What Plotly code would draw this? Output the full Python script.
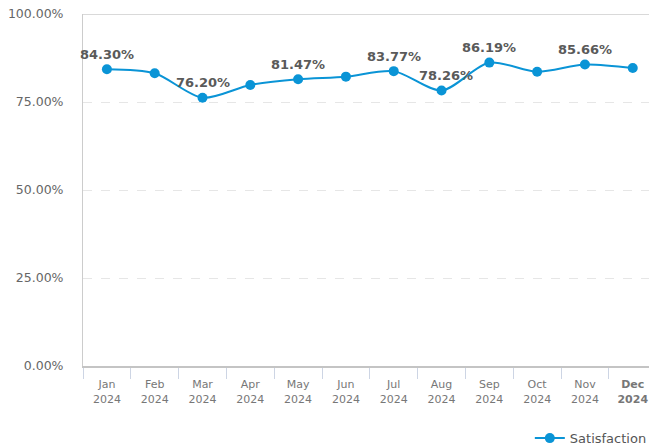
import plotly.graph_objects as go

months = ["Jan", "Feb", "Mar", "Apr", "May", "Jun", "Jul", "Aug", "Sep", "Oct", "Nov", "Dec"]
year = "2024"
satisfaction = [84.30, 83.15, 76.20, 79.83, 81.47, 82.20, 83.77, 78.26, 86.19, 83.60, 85.66, 84.66]
show_label = [True, False, True, False, True, False, True, True, True, False, True, False]
y_ticks = [0, 25, 50, 75, 100]

cats = [f"{m}<br>{year}" for m in months]
tick_text = [f"<b>{m}<br>{year}</b>" if m == "Dec" else f"{m}<br>{year}" for m in months]

LINE = "#0a94d6"
fig = go.Figure()
fig.add_trace(go.Scatter(
    x=cats, y=satisfaction, mode="lines+markers", name="Satisfaction",
    line=dict(color=LINE, width=2, shape="spline", smoothing=0.8),
    marker=dict(color=LINE, size=10),
    hoverinfo="skip",
))

for c, v, s, m in zip(cats, satisfaction, show_label, months):
    if s:
        fig.add_annotation(
            x=c, y=v, text=f"<b>{v:.2f}%</b>", showarrow=False,
            yshift=15, xshift=4 if m == "Aug" else 0,
            font=dict(family="DejaVu Sans", size=13, color="#5a5a5a"),
        )

fig.update_layout(
    width=649, height=446,
    margin=dict(l=83, r=0, t=14, b=80, autoexpand=False),
    paper_bgcolor="white", plot_bgcolor="white",
    font=dict(family="DejaVu Sans", color="#666666"),
    showlegend=True,
    legend=dict(orientation="h", x=1.005, xanchor="right", y=-0.205, yanchor="middle",
                font=dict(size=13, color="#555555"), bgcolor="rgba(0,0,0,0)"),
    xaxis=dict(
        type="category", range=[-0.5, 11.34], tickmode="array", tickvals=cats, ticktext=tick_text,
        tickson="boundaries", ticks="outside", ticklen=11, tickcolor="#cdd5e4", tickwidth=1,
        showgrid=False, showline=True, linecolor="#c4c4c4", linewidth=2,
        tickfont=dict(size=11, color="#777777"), zeroline=False, ticklabelstandoff=7,
    ),
    yaxis=dict(
        range=[0, 100], tickmode="array", tickvals=y_ticks,
        ticktext=[f"{t:.2f}%" for t in y_ticks],
        showgrid=True, gridcolor="#e6e6e6", griddash="dash", gridwidth=1,
        showline=True, linecolor="#cccccc", linewidth=1, zeroline=False,
        tickfont=dict(size=12.5, color="#666666"), ticklabelstandoff=16,
    ),
    shapes=[dict(type="line", xref="paper", yref="y", x0=0, x1=1, y0=100, y1=100,
                 line=dict(color="#d9d9d9", width=2))],
)

fig.write_html("out.html")
